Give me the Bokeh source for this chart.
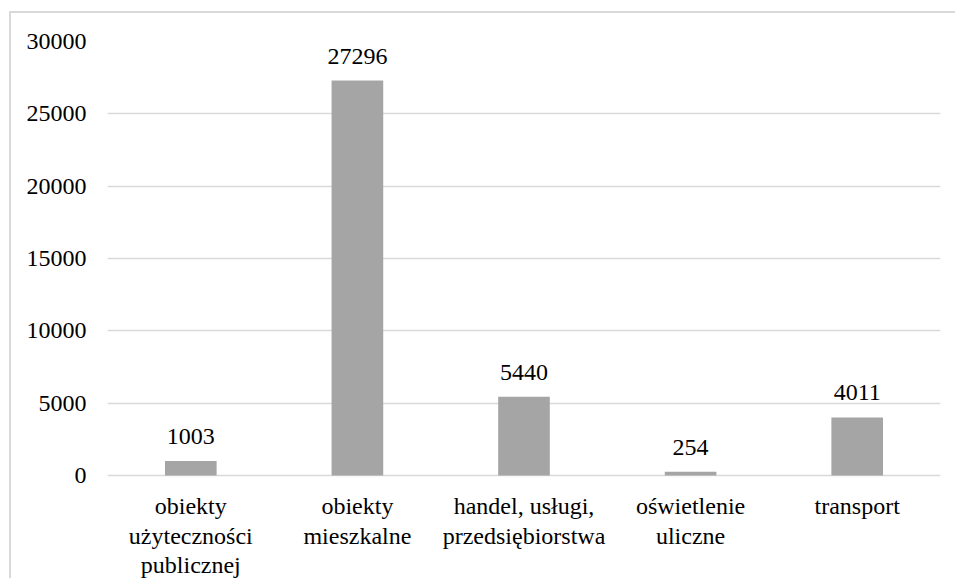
from bokeh.plotting import figure
from bokeh.models import ColumnDataSource, LabelSet, FixedTicker, Range1d
from bokeh.core.properties import value
from bokeh.embed import file_html
from bokeh.resources import INLINE

categories = ["obiekty użyteczności publicznej", "obiekty mieszkalne",
              "handel, usługi, przedsiębiorstwa", "oświetlenie uliczne", "transport"]
axis_labels = ["obiekty\nużyteczności\npublicznej", "obiekty\nmieszkalne",
               "handel, usługi,\nprzedsiębiorstwa", "oświetlenie\nuliczne", "transport"]
values = [1003, 27296, 5440, 254, 4011]
y_ticks = [0, 5000, 10000, 15000, 20000, 25000, 30000]

FONT = "Liberation Serif"
FS = "24px"

# layout (pixels)
W, H = 946, 567
MBL, MBR, MBT = 96, 17, 28
ZERO_PX_FROM_TOP = 475 - 13          # y=0 line position inside the canvas
Y_MAX = 30000
frame_h = H - MBT
px_per_unit = (ZERO_PX_FROM_TOP - MBT) / Y_MAX
y_min = -(frame_h - (ZERO_PX_FROM_TOP - MBT)) / px_per_unit
LINE_OFFSETS = [-38, -68, -97]       # baselines of category label lines below y=0

src = ColumnDataSource(dict(cat=categories, val=values, lab=[str(v) for v in values]))

p = figure(x_range=categories, y_range=Range1d(y_min, Y_MAX), width=W, height=H,
           output_backend="svg", toolbar_location=None,
           min_border_left=MBL, min_border_right=MBR, min_border_top=MBT, min_border_bottom=0)
p.margin = (11, 0, 0, 9)
p.styles = {"border-top": "2px solid #d9d9d9", "border-left": "2px solid #d9d9d9"}

p.vbar(x="cat", top="val", width=0.31, source=src, color="#a5a5a5", line_color=None)

labels = LabelSet(x="cat", y="val", text="lab", source=src, text_align="center",
                  text_baseline="alphabetic", y_offset=17, text_font=value(FONT),
                  text_font_size=FS, text_color="#000000")
p.add_layout(labels)

# category labels, one LabelSet per text line so every line is centred
split = [lab.split("\n") for lab in axis_labels]
for i, off in enumerate(LINE_OFFSETS):
    cats = [c for c, parts in zip(categories, split) if len(parts) > i]
    texts = [parts[i] for parts in split if len(parts) > i]
    lsrc = ColumnDataSource(dict(cat=cats, zero=[0] * len(cats), txt=texts))
    p.add_layout(LabelSet(x="cat", y="zero", text="txt", source=lsrc, text_align="center",
                          text_baseline="alphabetic", y_offset=off, text_font=value(FONT),
                          text_font_size=FS, text_color="#000000"))

p.outline_line_color = None
p.xgrid.grid_line_color = None
p.ygrid.grid_line_color = "#d9d9d9"
p.ygrid.grid_line_width = 1.5
p.yaxis.ticker = FixedTicker(ticks=y_ticks)
p.xaxis.visible = False

ax = p.yaxis[0]
ax.axis_line_color = None
ax.major_tick_line_color = None
ax.minor_tick_line_color = None
ax.major_tick_in = 0
ax.major_tick_out = 0
ax.major_label_text_font = FONT
ax.major_label_text_font_size = FS
ax.major_label_text_color = "#000000"
ax.major_label_standoff = 21

open("out.html", "w").write(file_html(p, INLINE))
